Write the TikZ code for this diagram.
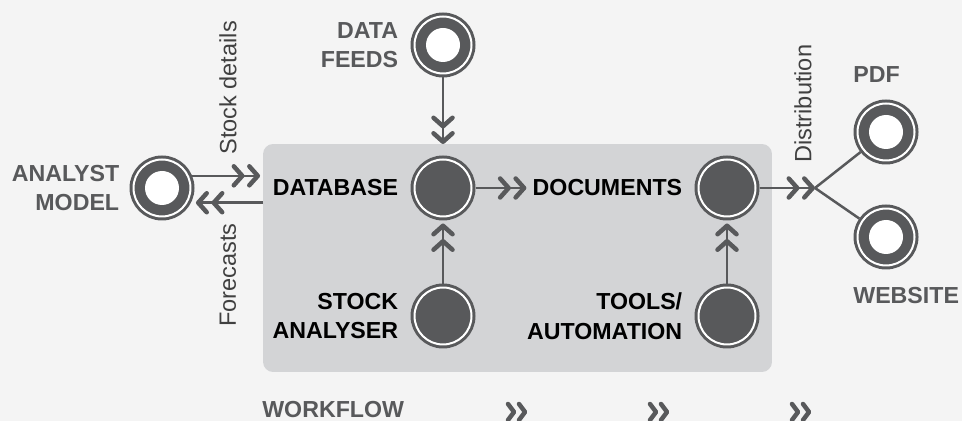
\documentclass[tikz,border=0pt]{standalone}
\usepackage{fontspec}
\setmainfont{Liberation Sans}
\usetikzlibrary{arrows.meta, positioning}

\definecolor{pagegrey}{HTML}{F4F4F4}
\definecolor{panelgrey}{HTML}{D3D4D6}
\definecolor{inkgrey}{HTML}{58595B}

\tikzset{
  chev/.tip={Straight Barb[length=0.17cm, width=0.38cm, line width=0.09cm, round]},
  flow/.style={draw=inkgrey, line width=0.05cm, -{chev[sep=0.05cm]chev}},
  link/.style={draw=inkgrey, line width=0.05cm},
  hub/.style={circle, fill=inkgrey, draw=inkgrey, line width=0.06cm,
    double=white, double distance=0.04cm, minimum size=1.14cm,
    inner sep=0pt, outer sep=0.08cm},
  source/.style={hub, path picture={\fill[white] (path picture bounding box.center) circle (0.34cm);}},
  inlabel/.style={font=\fontsize{13.2}{16.8}\selectfont\bfseries, align=right, inner sep=0pt, text=black},
  outlabel/.style={inlabel, text=inkgrey},
  sidelabel/.style={font=\fontsize{13.4}{16}\selectfont, rotate=90, anchor=west, inner sep=0pt, text=black!75},
  pics/flowchev/.style={code={
    \draw[inkgrey, line width=0.09cm, line cap=round, line join=round] (-10,-8) -- (-4,0) -- (-10,8);
    \draw[inkgrey, line width=0.09cm, line cap=round, line join=round] (1,-8) -- (7,0) -- (1,8);
  }},
}

\begin{document}
\begin{tikzpicture}[x=0.02cm, y=-0.02cm]
  % page and grey panel
  \useasboundingbox (0,0) rectangle (962,421);
  \fill[pagegrey] (0,0) rectangle (962,421);
  \node[fill=panelgrey, rounded corners=0.2cm, minimum width=10.18cm, minimum height=4.56cm,
    inner sep=0pt, outer sep=0pt] (panel) at (517.5,258) {};

  % circles
  \node[source] (analyst) at (162,188) {};
  \node[source] (feeds) at (443,45) {};
  \node[hub] (database) at (443,188) {};
  \node[hub] (analyser) at (443,316) {};
  \node[hub] (documents) at (727,188) {};
  \node[hub] (tools) at (727,316) {};
  \node[source] (pdf) at (886,132) {};
  \node[source] (website) at (886,237) {};

  % labels next to the circles
  \node[outlabel, left=0.2cm of analyst] (analystlbl) {ANALYST\\MODEL};
  \node[outlabel, left=0.24cm of feeds] (feedslbl) {DATA\\FEEDS};
  \node[inlabel, left=0.24cm of database] (databaselbl) {DATABASE};
  \node[inlabel, left=0.24cm of analyser] (analyserlbl) {STOCK\\ANALYSER};
  \node[inlabel, left=0.24cm of documents] (doclbl) {DOCUMENTS};
  \node[inlabel, left=0.24cm of tools] (toolslbl) {TOOLS/\\AUTOMATION};
  \node[outlabel, anchor=south west] (pdflbl) at (853,83) {PDF};
  \node[outlabel, anchor=north west] (websitelbl) at (853,287) {WEBSITE};

  % connectors
  \draw[flow, shorten >=0.06cm] (analyst.22) -- (analyst.22 -| panel.west);
  \draw[flow, shorten >=0.1cm] (analyst.-27 -| panel.west) -- (analyst.-27);
  \draw[flow] (feeds) -- (feeds |- panel.north);
  \draw[flow, shorten >=0.06cm] (analyser) -- (database);
  \draw[flow, shorten >=0.06cm] (tools) -- (documents);
  \draw[flow, shorten >=0.12cm] (database) -- (doclbl);
  \coordinate (fork) at (815,188);
  \draw[flow] (documents) -- (fork);
  \draw[link] (fork) -- (pdf);
  \draw[link] (fork) -- (website);

  % rotated side labels
  \node[sidelabel] (stocklbl) at (228,155) {Stock details};
  \node[sidelabel] (forecastlbl) at (228,327) {Forecasts};
  \node[sidelabel] (distlbl) at (803,163) {Distribution};

  % workflow strip
  \node[outlabel, anchor=base west] (workflow) at (262,418) {WORKFLOW};
  \foreach \cx in {518, 660, 802}
    \pic at (\cx,412) {flowchev};
\end{tikzpicture}
\end{document}
